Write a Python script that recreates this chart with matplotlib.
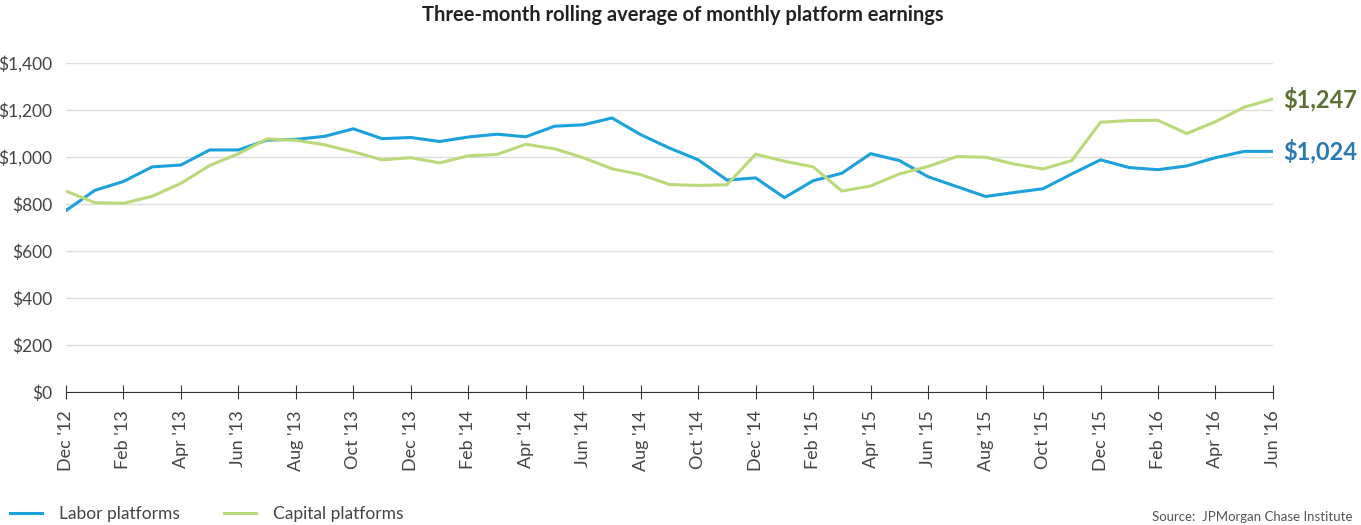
import numpy as np
from matplotlib import pyplot as plt

plt.rcParams['font.family'] = ['Lato', 'DejaVu Sans']

# monthly, Dec 2012 .. Jun 2016
months = ["Dec '12", "Jan '13", "Feb '13", "Mar '13", "Apr '13", "May '13", "Jun '13",
          "Jul '13", "Aug '13", "Sep '13", "Oct '13", "Nov '13", "Dec '13",
          "Jan '14", "Feb '14", "Mar '14", "Apr '14", "May '14", "Jun '14",
          "Jul '14", "Aug '14", "Sep '14", "Oct '14", "Nov '14", "Dec '14",
          "Jan '15", "Feb '15", "Mar '15", "Apr '15", "May '15", "Jun '15",
          "Jul '15", "Aug '15", "Sep '15", "Oct '15", "Nov '15", "Dec '15",
          "Jan '16", "Feb '16", "Mar '16", "Apr '16", "May '16", "Jun '16"]

labor = [772, 858, 896, 958, 966, 1030, 1030, 1072, 1075, 1088, 1120, 1078, 1083,
         1066, 1085, 1097, 1086, 1131, 1137, 1166, 1095, 1038, 988, 902, 911,
         827, 899, 931, 1014, 985, 916, 874, 832, 849, 865, 928, 988, 955,
         946, 962, 997, 1024, 1024]

capital = [855, 806, 803, 833, 888, 964, 1014, 1077, 1071, 1052, 1022, 988, 997,
           975, 1005, 1011, 1054, 1035, 997, 950, 925, 883, 879, 882, 1012,
           982, 958, 855, 877, 928, 960, 1002, 999, 970, 949, 985, 1148, 1155,
           1156, 1100, 1150, 1212, 1247]

blue = '#1ba1dc'
green = '#bad97a'

fig = plt.figure(figsize=(13.61, 5.25), dpi=100)
ax = fig.add_axes([0.0485, 0.2533, 0.8868, 0.6267])

x = np.arange(len(months))
ax.plot(x, labor, color=blue, lw=2.2, label='Labor platforms', solid_joinstyle='miter')
ax.plot(x, capital, color=green, lw=2.2, label='Capital platforms', solid_joinstyle='miter')

ax.set_xlim(0, len(months) - 1)
ax.set_ylim(0, 1400)
ax.set_yticks(np.arange(0, 1401, 200))
ax.set_yticklabels(['$' + format(v, ',') for v in range(0, 1401, 200)])
ax.set_xticks(x[::2])
ax.set_xticklabels(months[::2], rotation=90)
ax.grid(axis='y', color='#dddddd', lw=1)
ax.set_axisbelow(True)
for s in ['top', 'right', 'left']:
    ax.spines[s].set_visible(False)
ax.spines['bottom'].set_color('#333333')
ax.tick_params(axis='y', length=0, pad=10, labelsize=12.5, labelcolor='#444444')
ax.tick_params(axis='x', direction='inout', length=10, color='#333333',
               pad=8, labelsize=13, labelcolor='#444444')

ax.text(len(months) - 1 + 0.35, capital[-1], '$1,247', color='#5b7032',
        fontsize=17, fontweight='bold', va='center', ha='left')
ax.text(len(months) - 1 + 0.35, labor[-1], '$1,024', color='#2a79b3',
        fontsize=17, fontweight='bold', va='center', ha='left')

fig.text(0.502, 0.972, 'Three-month rolling average of monthly platform earnings',
         ha='center', va='center', fontsize=14.5, fontweight='bold', color='#222222')

fig.legend(loc='center left', bbox_to_anchor=(0.0073, 0.021), ncol=2, frameon=False,
           fontsize=12.5, handlelength=1.85, columnspacing=2.5, handletextpad=1.0,
           borderaxespad=0, borderpad=0, labelcolor='#444444')

fig.text(0.994, 0.004, 'Source:  JPMorgan Chase Institute', ha='right', va='bottom',
         fontsize=9.5, color='#555555')

fig.savefig('out.png')
